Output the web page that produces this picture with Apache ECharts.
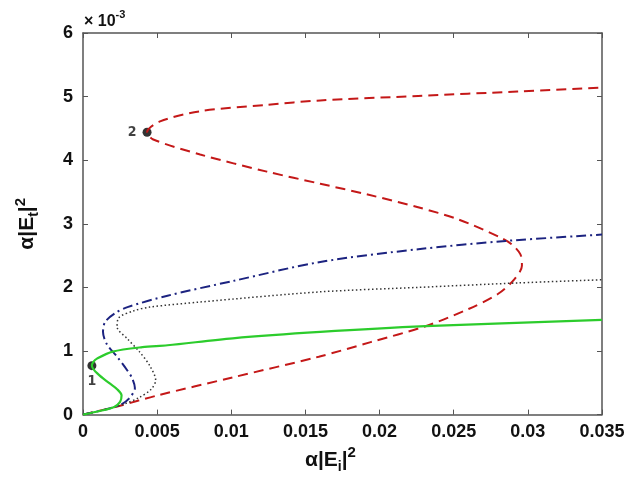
<!DOCTYPE html>
<html>
<head>
<meta charset="utf-8">
<script src="https://cdn.jsdelivr.net/npm/echarts@6/dist/echarts.min.js"></script>
<style>
  html, body { margin: 0; padding: 0; background: #fff; }
  #chart { width: 638px; height: 479px; }
</style>
</head>
<body>
<div id="chart"></div>
<script>
// x: alpha|Ei|^2, y: alpha|Et|^2 in units of 1e-3
const xTicks = [0, 0.005, 0.01, 0.015, 0.02, 0.025, 0.03, 0.035];
const yTicks = [0, 1, 2, 3, 4, 5, 6];

const redCurve = [
  [0, 0], [0.0025, 0.14], [0.005, 0.30], [0.01, 0.58], [0.0159, 0.91], [0.0194, 1.14],
  [0.0231, 1.39], [0.026, 1.66], [0.028, 1.90], [0.0291, 2.13], [0.0296, 2.34],
  [0.0295, 2.52], [0.0289, 2.68], [0.0282, 2.78], [0.0253, 3.07], [0.0226, 3.26],
  [0.0192, 3.46], [0.016, 3.63], [0.0124, 3.82], [0.0079, 4.09], [0.0047, 4.33],
  [0.00432, 4.44], [0.0052, 4.61], [0.0079, 4.77], [0.0124, 4.87], [0.016, 4.94],
  [0.0226, 5.01], [0.0293, 5.08], [0.035, 5.14]
];
const blueCurve = [
  [0, 0], [0.0015, 0.08], [0.0025, 0.15], [0.0031, 0.25], [0.0035, 0.42], [0.0033, 0.58],
  [0.003, 0.69], [0.0023, 0.91], [0.0016, 1.11], [0.00135, 1.3], [0.0015, 1.46],
  [0.0022, 1.6], [0.003, 1.69], [0.0057, 1.87], [0.0101, 2.1], [0.016, 2.4],
  [0.0226, 2.6], [0.0285, 2.73], [0.035, 2.83]
];
const dottedCurve = [
  [0, 0], [0.0015, 0.08], [0.0027, 0.16], [0.0038, 0.27], [0.0046, 0.4], [0.0049, 0.54],
  [0.0045, 0.77], [0.0038, 0.99], [0.003, 1.19], [0.0023, 1.38], [0.0024, 1.52],
  [0.0034, 1.63], [0.0045, 1.69], [0.0079, 1.77], [0.016, 1.93], [0.0226, 2.0],
  [0.0293, 2.07], [0.035, 2.12]
];
const greenCurve = [
  [0, 0], [0.0012, 0.06], [0.0021, 0.12], [0.0025, 0.2], [0.0026, 0.3], [0.0023, 0.4],
  [0.0018, 0.49], [0.001, 0.64], [0.0006, 0.77], [0.0007, 0.83], [0.00094, 0.88],
  [0.002, 0.99], [0.004, 1.06], [0.0057, 1.09], [0.0101, 1.2], [0.016, 1.3],
  [0.0231, 1.39], [0.035, 1.49]
];
const point1 = [0.0006, 0.77];
const point2 = [0.00432, 4.44];

const FONT = 'Liberation Sans, Arial, sans-serif';
const AX = '#555';

function frameAxis(pos, isX, show) {
  return {
    type: 'value', position: pos,
    min: 0, max: isX ? 0.035 : 6, interval: isX ? 0.005 : 1,
    axisLine: { show: true, onZero: false, lineStyle: { color: AX, width: 1.5 } },
    axisTick: { show: true, inside: true, length: 5, lineStyle: { color: AX } },
    splitLine: { show: false },
    axisLabel: {
      show: show, color: '#111', fontFamily: FONT, fontWeight: 'bold', fontSize: 18,
      margin: isX ? 8 : 10,
      formatter: v => isX ? String(+v.toFixed(3)) : String(v)
    }
  };
}

const nameRich = {
  a: { fontFamily: FONT, fontWeight: 'bold', fontSize: 21, color: '#111' },
  sub: { fontFamily: FONT, fontWeight: 'bold', fontSize: 14, color: '#111', padding: [14, 0, 0, 0] },
  sup: { fontFamily: FONT, fontWeight: 'bold', fontSize: 15, color: '#111', padding: [0, 0, 14, 0] }
};

const chart = echarts.init(document.getElementById('chart'));
const xMain = frameAxis('bottom', true, true);
xMain.name = '{a|α|E}{sub|i}{a||}{sup|2}';
xMain.nameLocation = 'middle';
xMain.nameGap = 30;
xMain.nameTextStyle = { rich: nameRich, padding: [0, 24, 0, 0] };
const yMain = frameAxis('left', false, true);
yMain.name = '{a|α|E}{sub|t}{a||}{sup|2}';
yMain.nameLocation = 'middle';
yMain.nameGap = 41;
yMain.nameRotate = 90;
yMain.nameTextStyle = { rich: nameRich };

chart.setOption({
  animation: false,
  backgroundColor: '#fff',
  grid: { left: 83, right: 36, top: 33, bottom: 63 },
  xAxis: [xMain, frameAxis('top', true, false)],
  yAxis: [yMain, frameAxis('right', false, false)],
  graphic: [{
    type: 'text', left: 84, top: 9,
    style: {
      text: '{a|× 10}{sup|-3}',
      rich: {
        a: { fontFamily: FONT, fontWeight: 'bold', fontSize: 16, fill: '#111', padding: [7, 0, 0, 0] },
        sup: { fontFamily: FONT, fontWeight: 'bold', fontSize: 11, fill: '#111', padding: [0, 0, 7, 0] }
      }
    }
  }],
  series: [
    {
      type: 'line', data: redCurve, smooth: 0.3, symbol: 'none',
      lineStyle: { color: '#c41818', width: 2, type: [10, 6] }
    },
    {
      type: 'line', data: blueCurve, smooth: 0.3, symbol: 'none',
      lineStyle: { color: '#1c2380', width: 2, type: [10, 4, 2, 4] }
    },
    {
      type: 'line', data: dottedCurve, smooth: 0.3, symbol: 'none',
      lineStyle: { color: '#333', width: 1.5, type: [1.5, 2.5] }
    },
    {
      type: 'line', data: greenCurve, smooth: 0.3, symbol: 'none',
      lineStyle: { color: '#2ccc2c', width: 2.2 }
    },
    {
      type: 'scatter', symbolSize: 9, itemStyle: { color: '#000' },
      data: [
        { value: point1, label: { show: true, formatter: '1', position: 'bottom', distance: 4 } },
        { value: point2, label: { show: true, formatter: '2', position: 'left', distance: 6 } }
      ],
      label: { color: '#111', fontFamily: 'DejaVu Sans Condensed, ' + FONT, fontWeight: 'bold', fontSize: 14 }
    }
  ]
});
</script>
</body>
</html>
